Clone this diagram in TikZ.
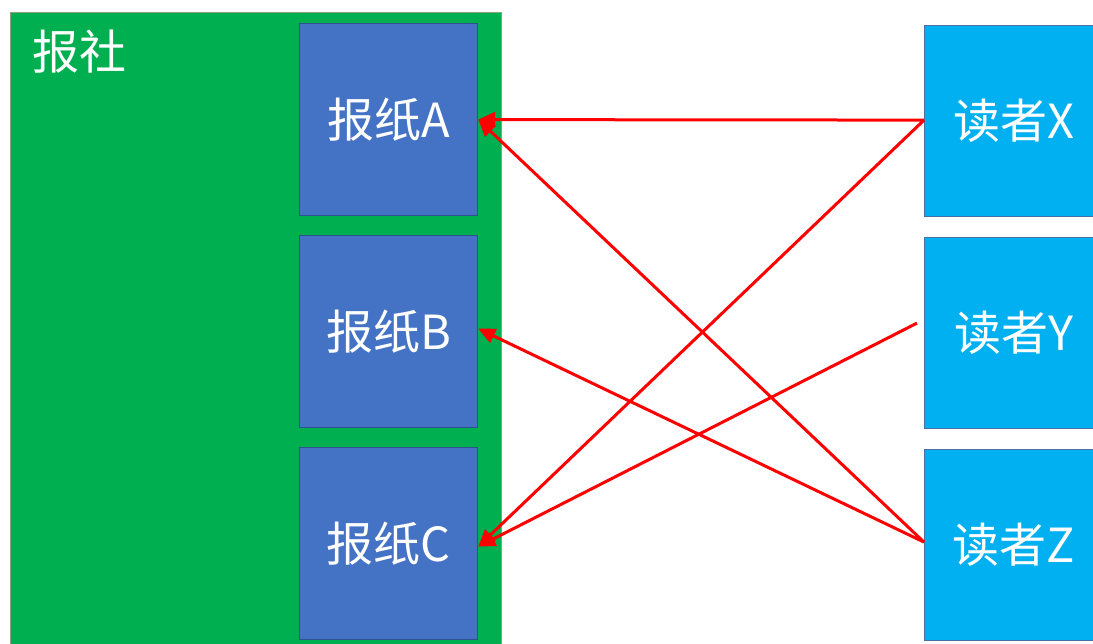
\documentclass[tikz,border=0pt]{standalone}
\usepackage{fontspec}
\newfontfamily\cjk{Noto Sans CJK SC}
\usetikzlibrary{arrows.meta}
\definecolor{pressgreen}{HTML}{00B050}
\definecolor{pressedge}{HTML}{8FA37A}
\definecolor{paperblue}{HTML}{4472C4}
\definecolor{paperedge}{HTML}{2F528F}
\definecolor{readercyan}{HTML}{00B0F0}
\definecolor{readeredge}{HTML}{4A6FA5}
\definecolor{linkred}{HTML}{FF0000}
\tikzset{
  boxtext/.style={font=\cjk\fontsize{47}{50}\selectfont, text=white},
  paperbox/.style={boxtext, draw=paperedge, fill=paperblue, line width=1.2pt,
    minimum width=178pt, minimum height=192pt, inner sep=0pt, anchor=north west},
  readerbox/.style={boxtext, draw=readeredge, fill=readercyan, line width=1.2pt,
    minimum width=178pt, minimum height=191pt, inner sep=0pt, anchor=north west},
  pressbox/.style={draw=pressedge, fill=pressgreen, line width=0.8pt,
    minimum width=491pt, minimum height=650pt, inner sep=0pt, anchor=north west},
  link/.style={draw=linkred, line width=3pt, -{Triangle[length=17pt,width=15pt]}}
}
\begin{document}
\begin{tikzpicture}[x=1pt,y=-1pt]
\useasboundingbox (0,0) rectangle (1093,644);
\fill[white] (0,0) rectangle (1093,644);
\clip (0,0) rectangle (1093,644);
\node[pressbox] (press) at (10,12) {};
\node[boxtext, anchor=center] (presslabel) at (79,52) {报社};
\node[paperbox] (A) at (299,23) {报纸A};
\node[paperbox] (B) at (299,235) {报纸B};
\node[paperbox] (C) at (299,447) {报纸C};
\node[readerbox] (X) at (924,25) {读者X};
\node[readerbox] (Y) at (924,237) {读者Y};
\node[readerbox] (Z) at (924,449) {读者Z};
\coordinate (Ystart) at ([xshift=-7pt,yshift=10pt]Y.west);
\draw[link] ([yshift=1pt]X.west) -- (A.east);
\draw[link] ([yshift=1pt]X.west) -- ([yshift=-3pt]C.east);
\draw[link] (Ystart) -- ([yshift=-3pt]C.east);
\draw[link] ([yshift=3pt]Z.west) -- (A.east);
\draw[link] ([yshift=3pt]Z.west) -- ([yshift=3pt]B.east);
\end{tikzpicture}
\end{document}
